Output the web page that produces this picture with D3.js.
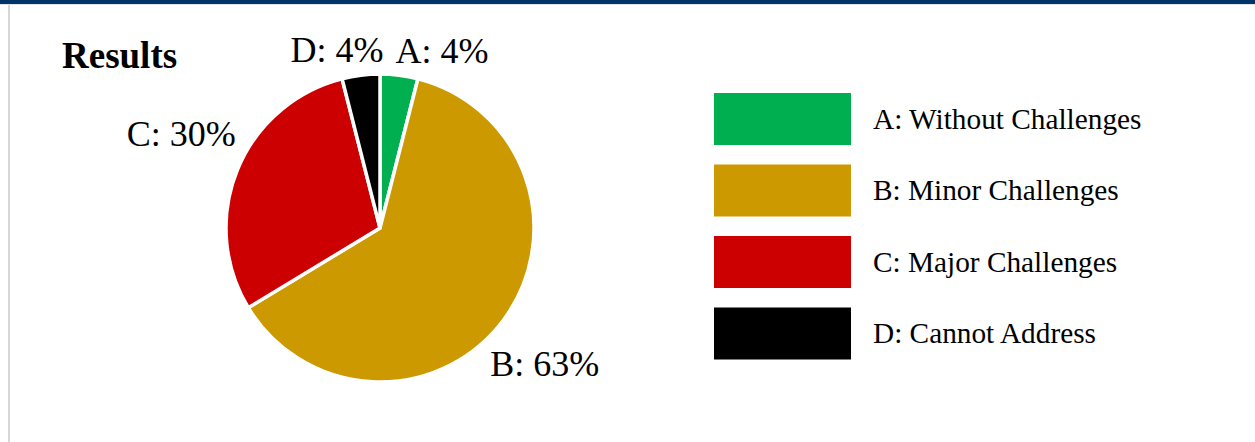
<!DOCTYPE html>
<html>
<head>
<meta charset="utf-8">
<script src="https://cdn.jsdelivr.net/npm/d3@7"></script>
<style>
  html, body { margin: 0; padding: 0; background: #ffffff; }
  svg { display: block; }
</style>
</head>
<body>
<svg id="chart" width="1255" height="442"></svg>
<script>
// Survey result shares (percent) and their display settings
const categories = ["A", "B", "C", "D"];
const legendNames = ["A: Without Challenges", "B: Minor Challenges", "C: Major Challenges", "D: Cannot Address"];
const shares = [4, 63, 30, 4];
const colors = ["#00B050", "#CC9900", "#CC0000", "#000000"];

const W = 1255, H = 442;
const svg = d3.select("#chart");
const serif = "'Liberation Serif', 'Times New Roman', serif";

// frame: navy band on top, thin grey rule on the left
svg.append("rect").attr("x", 0).attr("y", 0).attr("width", W).attr("height", 4).attr("fill", "#003366");
svg.append("rect").attr("x", 0).attr("y", 4).attr("width", W).attr("height", 1).attr("fill", "#e2e2e2");
svg.append("rect").attr("x", 8).attr("y", 5).attr("width", 2).attr("height", H - 5).attr("fill", "#d6d6d6");

// title
svg.append("text")
  .attr("x", 62).attr("y", 68)
  .attr("font-family", serif).attr("font-weight", "bold").attr("font-size", 37)
  .attr("fill", "#000")
  .text("Results");

// pie
const cx = 380, cy = 228, r = 154;
const data = categories.map((c, i) => ({ cat: c, value: shares[i], color: colors[i] }));
const pie = d3.pie().sort(null).value(d => d.value);
const arcs = pie(data);
const arc = d3.arc().innerRadius(0).outerRadius(r);

const g = svg.append("g").attr("transform", `translate(${cx},${cy})`);
g.selectAll("path.slice").data(arcs).join("path")
  .attr("class", "slice")
  .attr("d", arc)
  .attr("fill", d => d.data.color)
  .attr("stroke", "#ffffff")
  .attr("stroke-width", 3.5)
  .attr("stroke-linejoin", "miter");

// outside labels: each label box sits along its slice's mid-angle (nudged
// slightly clockwise), with its corner nearest the centre kept a fixed
// distance from it
const labelFs = 36;
const capH = labelFs * 0.66;
const gap = 166;
const angleNudge = 3 * Math.PI / 180;
const labels = g.selectAll("text.lbl").data(arcs).join("text")
  .attr("class", "lbl")
  .attr("font-family", serif).attr("font-size", labelFs)
  .attr("fill", "#000")
  .attr("text-anchor", "middle")
  .text(d => `${d.data.cat}: ${d.data.value}%`);

const boxes = [];
labels.each(function (d) {
  const w = this.getComputedTextLength();
  const a = (d.startAngle + d.endAngle) / 2 + angleNudge;
  const ux = Math.sin(a), uy = -Math.cos(a);
  const ox = -Math.sign(ux) * w / 2, oy = -Math.sign(uy) * capH / 2;
  // solve |t*u + o| = gap for t
  const b = ux * ox + uy * oy;
  const c = ox * ox + oy * oy - gap * gap;
  const t = -b + Math.sqrt(b * b - c);
  boxes.push({ node: this, w, x: t * ux, y: t * uy, ux, uy });
});

// separate labels that collide horizontally (the two thin top slices)
const sep = 12;
for (let i = 0; i < boxes.length; i++) {
  for (let j = i + 1; j < boxes.length; j++) {
    const p = boxes[i], q = boxes[j];
    const overlapY = Math.abs(p.y - q.y) < capH;
    const overlapX = Math.abs(p.x - q.x) < (p.w + q.w) / 2 + sep;
    if (overlapY && overlapX) {
      const [L, R] = p.x < q.x ? [p, q] : [q, p];
      const mid = (L.x + L.w / 2 + R.x - R.w / 2) / 2;
      L.x = mid - sep / 2 - L.w / 2;
      R.x = mid + sep / 2 + R.w / 2;
      [L, R].forEach(bx => {
        const nearX = bx === L ? bx.x + bx.w / 2 : bx.x - bx.w / 2;
        const dy = Math.sqrt(Math.max(0, gap * gap - nearX * nearX));
        bx.y = bx.uy < 0 ? -dy - capH / 2 : dy + capH / 2;
      });
    }
  }
}
boxes.forEach(bx => {
  d3.select(bx.node).attr("x", bx.x).attr("y", bx.y + capH / 2);
});

// legend
const legendX = 714, legendY = 93, swW = 137, swH = 52, step = 71.5;
const legendFs = 29.3;
const lg = svg.append("g");
const items = lg.selectAll("g.item").data(data).join("g")
  .attr("class", "item")
  .attr("transform", (d, i) => `translate(${legendX},${legendY + i * step})`);
items.append("rect")
  .attr("width", swW).attr("height", swH)
  .attr("fill", d => d.color);
items.append("text")
  .attr("x", 159).attr("y", swH / 2 + legendFs * 0.33)
  .attr("font-family", serif).attr("font-size", legendFs)
  .attr("fill", "#000")
  .text((d, i) => legendNames[i]);
</script>
</body>
</html>
